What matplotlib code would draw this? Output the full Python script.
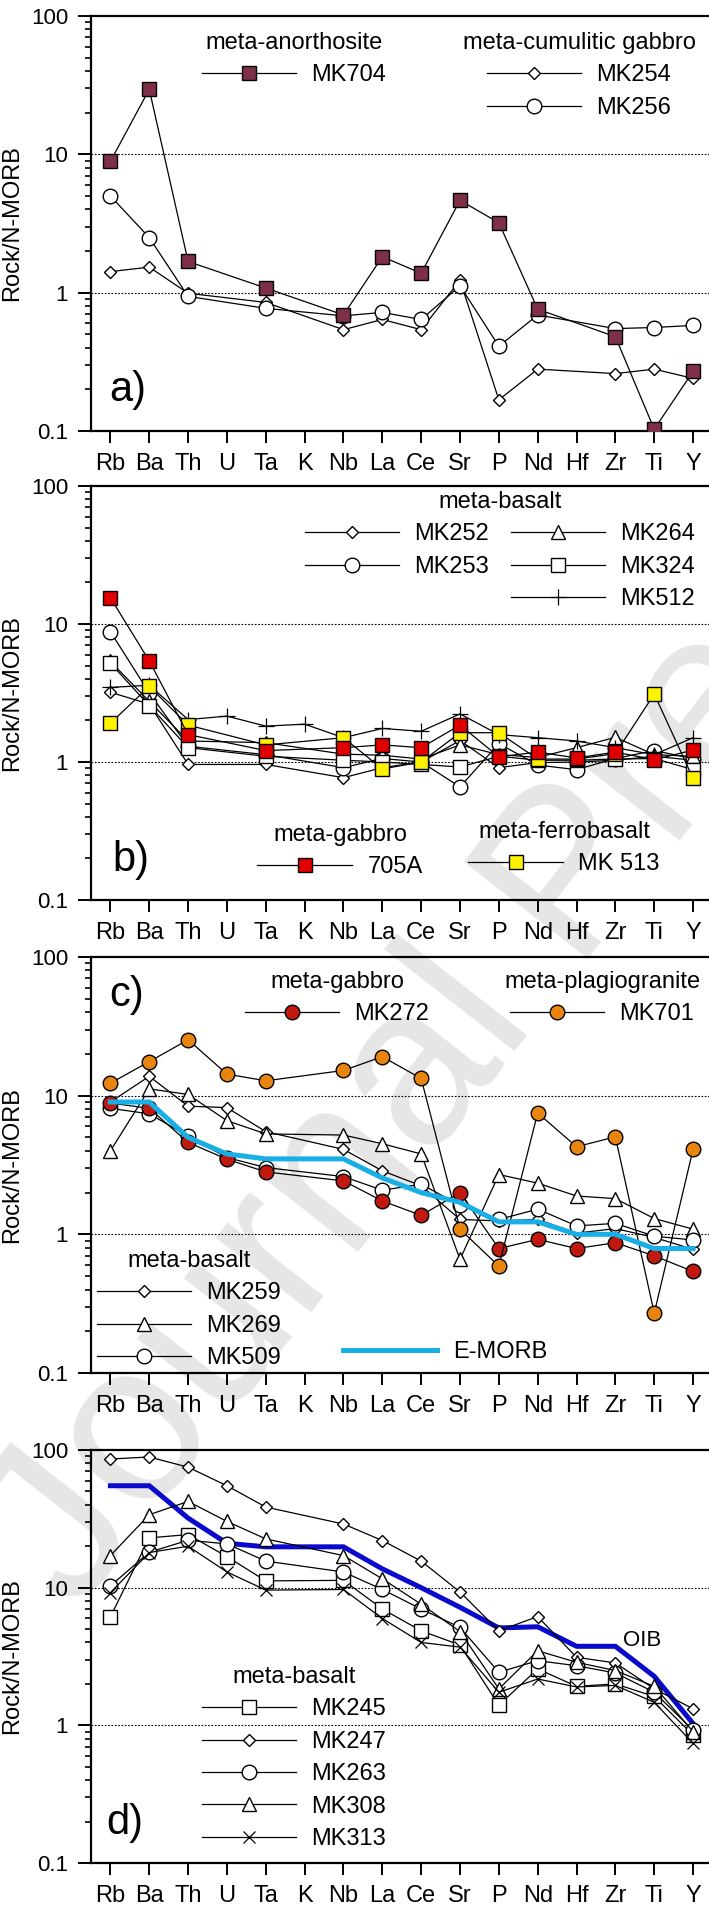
import numpy as np
import matplotlib.pyplot as plt
from matplotlib.lines import Line2D
from matplotlib.legend import Legend
from matplotlib.ticker import LogLocator, NullFormatter

plt.rcParams['font.family'] = ['Liberation Sans', 'DejaVu Sans']

W, H = 709, 1913
nan = np.nan

elements = ['Rb', 'Ba', 'Th', 'U', 'Ta', 'K', 'Nb', 'La', 'Ce', 'Sr', 'P', 'Nd', 'Hf', 'Zr', 'Ti', 'Y']

# a) meta-anorthosite / meta-cumulitic gabbro
mk704 = [8.9, 29.5, 1.68, nan, 1.08, nan, 0.69, 1.82, 1.38, 4.65, 3.2, 0.76, nan, 0.48, 0.103, 0.27]
mk254 = [1.42, 1.53, 0.99, nan, 0.85, nan, 0.54, 0.64, 0.54, 1.23, 0.168, 0.28, nan, 0.26, 0.28, 0.24]
mk256 = [5.0, 2.5, 0.94, nan, 0.77, nan, 0.68, 0.72, 0.64, 1.12, 0.41, 0.69, nan, 0.55, 0.56, 0.58]

# b) meta-basalt, meta-gabbro, meta-ferrobasalt
mk252 = [3.2, 2.63, 0.96, nan, 0.96, nan, 0.77, 0.91, 1.0, 1.43, 0.91, 0.99, 1.0, 1.03, 1.1, 1.03]
mk253 = [8.8, 3.16, 1.3, nan, 1.13, nan, 0.91, 1.06, 1.0, 0.66, 1.36, 0.95, 0.88, 1.06, 1.21, 1.06]
mk264 = [5.35, 2.75, 1.42, nan, 1.38, nan, 1.14, 1.12, 1.05, 1.33, 1.13, 1.08, 1.27, 1.51, 1.13, 1.1]
mk324 = [5.2, 2.56, 1.27, nan, 1.1, nan, 1.03, 1.0, 0.96, 0.92, 1.1, 1.03, 1.03, 1.05, 1.06, 0.88]
mk512 = [3.47, 3.6, 2.03, 2.15, 1.82, 1.88, 1.5, 1.75, 1.67, 2.23, 1.58, 1.5, 1.42, 1.27, 1.13, 1.5]
mk705a = [15.5, 5.4, 1.58, nan, 1.21, nan, 1.27, 1.33, 1.27, 1.85, 1.09, 1.18, 1.07, 1.18, 1.04, 1.22]
mk513 = [1.91, 3.53, 1.85, nan, 1.33, nan, 1.5, 0.89, 1.0, 1.63, 1.63, 1.05, 1.05, 1.15, 3.11, 0.76]

# c) meta-gabbro, meta-plagiogranite, meta-basalt, E-MORB
mk272 = [8.85, 8.1, 4.6, 3.48, 2.82, nan, 2.43, 1.74, 1.37, 2.0, 0.79, 0.92, 0.79, 0.87, 0.70, 0.54]
mk701 = [12.3, 17.6, 25.3, 14.3, 12.8, nan, 15.2, 19.1, 13.3, 1.09, 0.59, 7.5, 4.28, 5.05, 0.27, 4.1]
mk259 = [9.0, 13.8, 8.4, 8.2, 5.5, nan, 4.1, 2.87, 2.24, 1.28, 1.25, 1.28, 1.02, 1.1, 0.95, 0.78]
mk269 = [4.0, 11.2, 10.2, 6.6, 5.3, nan, 5.2, 4.5, 3.8, 0.66, 2.7, 2.34, 1.89, 1.81, 1.3, 1.09]
mk509 = [8.1, 7.4, 5.1, 3.58, 3.03, nan, 2.61, 2.08, 2.3, 1.62, 1.28, 1.52, 1.15, 1.2, 0.97, 0.91]
emorb = [9.0, 9.0, 5.0, 3.8, 3.5, 3.5, 3.5, 2.55, 2.0, 1.7, 1.23, 1.23, 1.0, 1.0, 0.79, 0.79]

# d) meta-basalt, OIB
mk245 = [6.14, 23, 24.3, 16.8, 11.2, nan, 11.3, 7.0, 4.86, 3.83, 1.4, 2.57, 1.92, 2.0, 1.62, 0.85]
mk247 = [86, 89, 75, 55, 38.5, nan, 29, 22, 15.6, 9.3, 4.86, 6.17, 3.12, 2.84, 1.84, 1.32]
mk263 = [10.3, 18.1, 22.1, 20.8, 15.6, nan, 13, 9.7, 7.0, 5.14, 2.43, 2.95, 2.71, 2.4, 1.74, 0.92]
mk308 = [17.1, 33.9, 42.3, 30.3, 22.6, nan, 17.1, 11.6, 7.58, 4.8, 1.84, 3.48, 2.87, 2.5, 1.92, 0.9]
mk313 = [9.2, 18, 20, 13, 9.6, nan, 9.7, 5.97, 4.0, 3.7, 1.74, 2.17, 1.9, 1.95, 1.47, 0.74]
oib = [55, 55, 32, 21, 19.8, 19.8, 19.8, 13.7, 10.0, 7.2, 5.1, 5.2, 3.75, 3.75, 2.27, 1.03]

FS = 17
diamond = dict(marker='D', ms=6.6, mfc='white')
circle = dict(marker='o', ms=10.5, mfc='white')
square = dict(marker='s', ms=9.5, mfc='white')
triangle = dict(marker='^', ms=10, mfc='white')
plus = dict(marker='+', ms=11, mew=0.9)
cross = dict(marker='x', ms=9, mew=0.9)


def fx(px):
    return px / W


def fy(py):
    return 1 - py / H


def sample(ax, values, style, z=3):
    x = np.arange(len(elements))
    y = np.array(values, dtype=float)
    ok = ~np.isnan(y)
    ax.plot(x[ok], y[ok], color='black', lw=0.9, mec='black', zorder=z, **style)


def handle(style, color='black', lw=0.9):
    return Line2D([], [], color=color, lw=lw, mec='black', **style)


def legend(ax, handles, labels, xpx, ypx, title=None, loc='upper center', ncol=1):
    leg = Legend(ax, handles, labels, title=title, loc=loc,
                 bbox_to_anchor=(fx(xpx), fy(ypx)), bbox_transform=fig.transFigure,
                 frameon=False, fontsize=FS, title_fontsize=FS, ncol=ncol,
                 handlelength=4.0, handletextpad=0.65, labelspacing=0.44,
                 borderpad=0, borderaxespad=0, columnspacing=0.9, numpoints=1)
    ax.add_artist(leg)


def setup(ax):
    ax.set_facecolor('none')
    ax.set_yscale('log')
    ax.set_ylim(0.1, 100)
    ax.set_xlim(-0.5, 15.41)
    ax.set_xticks(np.arange(len(elements)))
    ax.set_xticklabels(elements, fontsize=FS)
    ax.set_yticks([0.1, 1, 10, 100])
    ax.set_yticklabels(['0.1', '1', '10', '100'], fontsize=16)
    ax.yaxis.set_minor_locator(LogLocator(base=10, subs=np.arange(2, 10)))
    ax.yaxis.set_minor_formatter(NullFormatter())
    ax.spines['right'].set_visible(False)
    for s in ['left', 'bottom', 'top']:
        ax.spines[s].set_linewidth(1.6)
    ax.tick_params(axis='x', direction='out', length=8.5, width=1.4, pad=7, top=False)
    ax.tick_params(axis='y', which='major', direction='out', length=9.5, width=1.4, pad=7)
    ax.tick_params(axis='y', which='minor', direction='out', length=4.5, width=1.2)
    for v in [1, 10]:
        ax.axhline(v, color='black', lw=0.8, ls=(0, (1.5, 1.5)), zorder=1)
    ax.set_ylabel('Rock/N-MORB', fontsize=FS)
    ax.yaxis.set_label_coords((23 - 91) / 618, 0.5)


fig = plt.figure(figsize=(W / 100, H / 100), dpi=100)

# watermark
fig.text(fx(75), fy(1615), 'Journal Pre-proof', rotation=52, rotation_mode='anchor',
         ha='left', va='baseline', fontsize=165, color='#e6e6e6', zorder=-1)

panels = [(16, 431), (486, 900), (957, 1373), (1450, 1863)]
axes = []
for top, bot in panels:
    ax = fig.add_axes([fx(91), fy(bot), 618 / W, (bot - top) / H])
    setup(ax)
    axes.append(ax)

x = np.arange(len(elements))

# ---- a)
ax = axes[0]
sample(ax, mk254, diamond)
sample(ax, mk256, circle)
sq704 = dict(square, mfc='#7E3048')
sample(ax, mk704, sq704, z=4)
legend(ax, [handle(sq704)], ['MK704'], 294, 32, title='meta-anorthosite')
legend(ax, [handle(diamond), handle(circle)], ['MK254', 'MK256'], 579, 32,
       title='meta-cumulitic gabbro')

# ---- b)
ax = axes[1]
sample(ax, mk252, diamond)
sample(ax, mk253, circle)
sample(ax, mk264, triangle)
sample(ax, mk324, square)
sample(ax, mk512, plus)
sq513 = dict(square, mfc='#FFF200')
sq705 = dict(square, mfc='#E00000')
sample(ax, mk513, sq513, z=4)
sample(ax, mk705a, sq705, z=5)
blank = Line2D([], [], color='none')
legend(ax, [handle(diamond), handle(circle), blank, handle(triangle), handle(square), handle(plus)],
       ['MK252', 'MK253', '', 'MK264', 'MK324', 'MK512'], 500, 491, title='meta-basalt', ncol=2)
legend(ax, [handle(sq705)], ['705A'], 340, 824, title='meta-gabbro')
legend(ax, [handle(sq513)], ['MK 513'], 564, 821, title='meta-ferrobasalt')

# ---- c)
ax = axes[2]
sample(ax, mk259, diamond)
sample(ax, mk269, triangle)
sample(ax, mk509, circle)
ci272 = dict(circle, mfc='#C01A10')
ci701 = dict(circle, mfc='#E8850F')
sample(ax, mk272, ci272, z=4)
sample(ax, mk701, ci701, z=4)
ax.plot(x, emorb, color='#18AEE6', lw=3.6, zorder=5, solid_joinstyle='round')
legend(ax, [handle(ci272)], ['MK272'], 337, 971, title='meta-gabbro')
legend(ax, [handle(ci701)], ['MK701'], 602, 971, title='meta-plagiogranite')
legend(ax, [handle(diamond), handle(triangle), handle(circle)], ['MK259', 'MK269', 'MK509'],
       189, 1250, title='meta-basalt')
legend(ax, [Line2D([], [], color='#18AEE6', lw=3.6)], ['E-MORB'], 343, 1341, loc='upper left')

# ---- d)
ax = axes[3]
ax.plot(x, oib, color='#0A0ACD', lw=3.6, zorder=2, solid_joinstyle='miter')
sample(ax, mk245, square)
sample(ax, mk247, diamond)
sample(ax, mk263, circle)
sample(ax, mk308, triangle)
sample(ax, mk313, cross)
legend(ax, [handle(square), handle(diamond), handle(circle), handle(triangle), handle(cross)],
       ['MK245', 'MK247', 'MK263', 'MK308', 'MK313'], 294, 1666, title='meta-basalt')
fig.text(fx(642), fy(1640), 'OIB', fontsize=16, ha='center', va='center')

# panel letters
for lab, (px, py) in zip(['a)', 'b)', 'c)', 'd)'], [(128, 390), (131, 860), (127, 995), (125, 1823)]):
    fig.text(fx(px), fy(py), lab, fontsize=30, ha='center', va='center')

fig.savefig('out.png', dpi=100)
